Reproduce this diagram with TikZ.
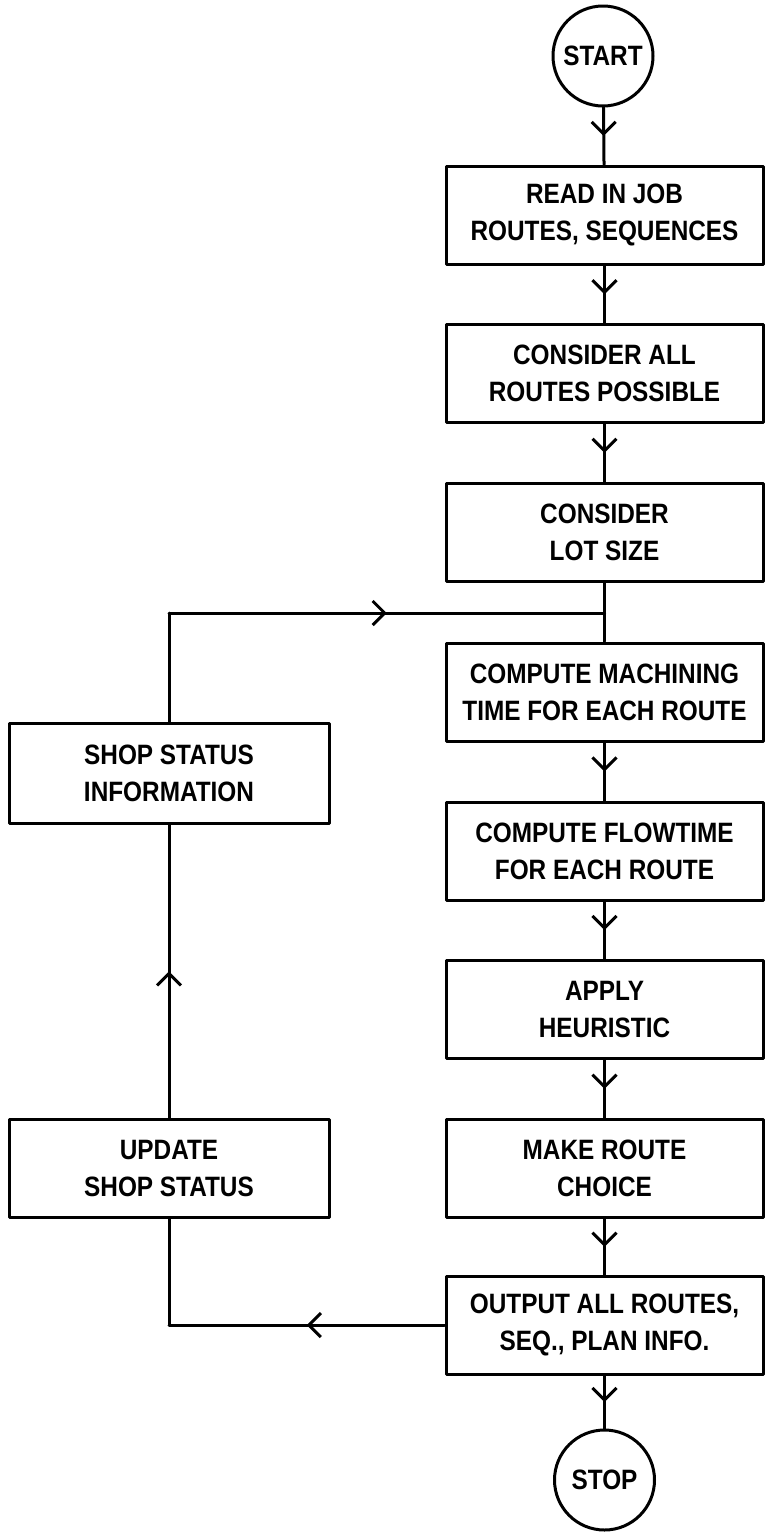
\documentclass[tikz,border=0pt]{standalone}
\usepackage{fontspec}
\newfontfamily\plotfont[FakeStretch=0.87]{Liberation Sans}
\usetikzlibrary{arrows.meta,decorations.markings}

\tikzset{
  ink/.style={line width=3pt, line join=round, line cap=round},
  boxtext/.style={font=\plotfont\bfseries\fontsize{28}{37}\selectfont},
  stepbox/.style={ink, boxtext, draw, rectangle, minimum width=317pt,
    minimum height=98pt, inner sep=0pt, align=center},
  termnode/.style={ink, boxtext, draw, circle, minimum size=100pt, inner sep=0pt},
  link/.style={ink},
  midarrow/.style={postaction={decorate}, decoration={markings,
    mark=at position 0.5 with {\arrow{Straight Barb[length=12pt,width=24pt,line width=3pt]}}}}
}

\begin{document}
\begin{tikzpicture}[x=1pt,y=-1pt]
  \useasboundingbox (0,0) rectangle (771,1534);

  % main column
  \node[termnode] (start) at (603,56) {START};
  \node[stepbox] (read)  at (604.5,215)   {READ IN JOB\\ROUTES, SEQUENCES};
  \node[stepbox] (all)   at (604.5,373.6) {CONSIDER ALL\\ROUTES POSSIBLE};
  \node[stepbox] (lot)   at (604.5,532.2) {CONSIDER\\LOT SIZE};
  \node[stepbox] (mach)  at (604.5,692)   {COMPUTE MACHINING\\TIME FOR EACH ROUTE};
  \node[stepbox] (flow)  at (604.5,851)   {COMPUTE FLOWTIME\\FOR EACH ROUTE};
  \node[stepbox] (heur)  at (604.5,1009)  {APPLY\\HEURISTIC};
  \node[stepbox] (make)  at (604.5,1168.5){MAKE ROUTE\\CHOICE};
  \node[stepbox] (out)   at (604.5,1325)  {OUTPUT ALL ROUTES,\\SEQ., PLAN INFO.};
  \node[termnode] (stop) at (604.5,1480)  {STOP};

  % feedback column
  \node[stepbox, minimum width=320pt, minimum height=100pt] (shop) at (169,773) {SHOP STATUS\\INFORMATION};
  \node[stepbox, minimum width=320pt] (upd) at (169,1168.5) {UPDATE\\SHOP STATUS};

  % bends of the feedback loop
  \coordinate (join) at (604.5,613);
  \coordinate (topleft) at (shop.north |- join);
  \coordinate (botleft) at (upd.south |- out.west);

  % main flow
  \draw[link,midarrow] (start) -- (read);
  \draw[link,midarrow] (read) -- (all);
  \draw[link,midarrow] (all) -- (lot);
  \draw[link] (lot) -- (mach);
  \draw[link,midarrow] (mach) -- (flow);
  \draw[link,midarrow] (flow) -- (heur);
  \draw[link,midarrow] (heur) -- (make);
  \draw[link,midarrow] (make) -- (out);
  \draw[link,midarrow] (out) -- (stop);

  % feedback loop
  \draw[link,midarrow] (out.west) -- (botleft);
  \draw[link] (botleft) -- (upd.south);
  \draw[link,midarrow] (upd.north) -- (shop.south);
  \draw[link] (shop.north) -- (topleft);
  \draw[link,midarrow] (topleft) -- (join);
\end{tikzpicture}
\end{document}
